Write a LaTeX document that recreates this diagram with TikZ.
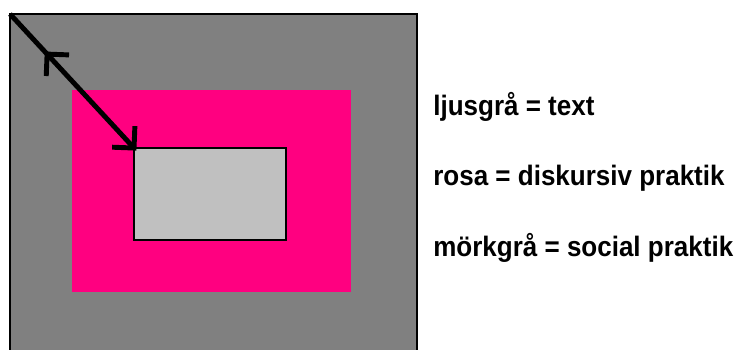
\documentclass[tikz,border=0pt]{standalone}
\usepackage{fontspec}
\usepackage{xcolor}
\usetikzlibrary{arrows.meta, decorations.markings}
\newfontfamily\legendfont{Liberation Sans}[FakeStretch=0.925]
\definecolor{socialcolor}{RGB}{128,128,128}
\definecolor{diskcolor}{RGB}{255,0,128}
\definecolor{textcolor}{RGB}{192,192,192}

\begin{document}
\begin{tikzpicture}[
    x=0.02cm, y=-0.02cm,
    layerbox/.style={
        rectangle,
        inner sep=0pt,
        outer sep=0pt
    },
    legend/.style={
        anchor=base west,
        inner sep=0pt,
        font=\legendfont\bfseries\fontsize{16pt}{19pt}\selectfont
    },
    levelarrow/.style={
        line width=2.8pt,
        -{Straight Barb[angle=90:12.5pt]},
        shorten >=-2pt,
        postaction={decorate},
        decoration={markings,
            mark=at position 0.28 with {\arrowreversed{Straight Barb[angle=90:12.5pt]}}}
    }
]
\useasboundingbox (0,0) rectangle (737,349);
\clip (0,0) rectangle (737,349);

%% NESTED BOXES %%
\node (social) [layerbox, fill=socialcolor, draw=black, line width=1.1pt,
    minimum width=8.14cm, minimum height=6.8cm] at (213.5,184) {};

\node (diskurs) [layerbox, fill=diskcolor,
    minimum width=5.58cm, minimum height=4.04cm] at (211.5,191) {};

\node (text) [layerbox, fill=textcolor, draw=black, line width=1.1pt,
    minimum width=3.04cm, minimum height=1.84cm] at (210,194) {};

%% ARROW %%
\draw [levelarrow] (social.north west) -- (text.north west);

%% LEGEND %%
\node (ljus) [legend] at (433,115) {ljusgrå = text};
\node (rosa) [legend] at (433,185) {rosa = diskursiv praktik};
\node (mork) [legend] at (433,256) {mörkgrå = social praktik};

\end{tikzpicture}
\end{document}
